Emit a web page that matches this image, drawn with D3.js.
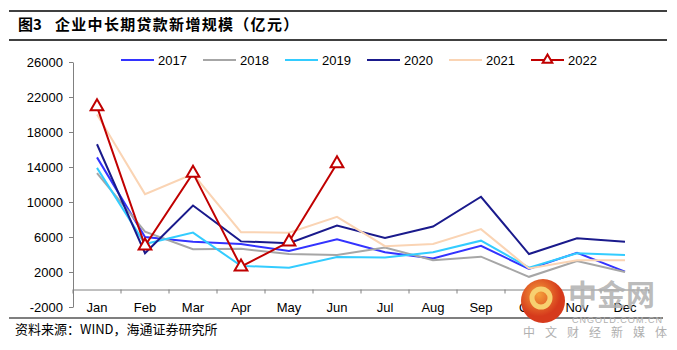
<!DOCTYPE html>
<html><head><meta charset="utf-8">
<script src="https://cdn.jsdelivr.net/npm/d3@7"></script>
<style>
html,body{margin:0;padding:0;background:#fff;}
svg{display:block;}
</style></head>
<body>
<svg id="chart" width="677" height="350"></svg>
<script>
const months = ["Jan","Feb","Mar","Apr","May","Jun","Jul","Aug","Sep","Oct","Nov","Dec"];
const yTicks = [-2000,2000,6000,10000,14000,18000,22000,26000];
const years = ["2017","2018","2019","2020","2021","2022"];
const v2017 = [15100,6000,5450,5200,4400,5750,4250,3550,5000,2350,4200,2050];
const v2018 = [13300,6600,4600,4650,4050,3950,4800,3350,3750,1450,3250,2000];
const v2019 = [13900,5200,6500,2700,2500,3700,3650,4250,5580,2500,4150,3950];
const v2020 = [16600,4150,9600,5500,5300,7300,5900,7200,10600,4050,5850,5450];
const v2021 = [20000,10900,13200,6550,6500,8300,4950,5200,6900,2400,3350,3350];
const v2022 = [20900,5000,13300,2600,5450,14400];
const colors = ["#3333ff","#a6a6a6","#33ccff","#1a1a8c","#fad4b4","#c00000"];

const series = [v2017,v2018,v2019,v2020,v2021,v2022];
const svg = d3.select("#chart");
const font = "'Liberation Sans', Arial, sans-serif";
const cjk = "'Noto Sans CJK SC', sans-serif";

// title rules
svg.append("line").attr("x1",9).attr("x2",667).attr("y1",11).attr("y2",11).attr("stroke","#000").attr("stroke-width",1.5);
svg.append("line").attr("x1",9).attr("x2",667).attr("y1",40).attr("y2",40).attr("stroke","#000").attr("stroke-width",1.5);
svg.append("text").attr("x",18).attr("y",30).attr("font-family",cjk).attr("font-weight","bold").attr("font-size",15).text("图3");
svg.append("text").attr("x",55).attr("y",30).attr("font-family",cjk).attr("font-weight","bold").attr("font-size",15).attr("letter-spacing",1.3).text("企业中长期贷款新增规模（亿元）");
svg.append("line").attr("x1",9).attr("x2",663).attr("y1",318).attr("y2",318).attr("stroke","#000").attr("stroke-width",1.2);
svg.append("text").attr("x",15).attr("y",334).attr("font-family",cjk).attr("font-size",13).text("资料来源：WIND，海通证券研究所");

const x = d3.scaleBand().domain(months).range([73,649]);
const y = d3.scaleLinear().domain([-2000,26000]).range([307,62]);

// y axis
const ya = svg.append("g").attr("transform","translate(73,0)")
  .call(d3.axisLeft(y).tickValues(yTicks).tickSize(4).tickSizeOuter(0).tickPadding(6).tickFormat(d=>String(d)));
ya.select(".domain").attr("stroke","#808080");
ya.selectAll(".tick line").attr("stroke","#808080");
ya.selectAll("text").attr("font-family",font).attr("font-size",13).attr("fill","#000");

// x axis at zero
const xa = svg.append("g").attr("transform",`translate(0,${y(0)})`)
  .call(d3.axisBottom(x).tickSize(0).tickPadding(0));
xa.select(".domain").attr("stroke","#808080");
xa.selectAll(".tick text").attr("font-family",font).attr("font-size",13).attr("fill","#000").attr("y", y(-2000)-y(0)+5).attr("dy","0");
// band-boundary ticks
svg.append("g").selectAll("line").data(months.concat(["end"])).join("line")
  .attr("x1",(d,i)=>73+i*x.step()).attr("x2",(d,i)=>73+i*x.step())
  .attr("y1",y(0)).attr("y2",y(0)+4).attr("stroke","#808080");

const grad = svg.append("defs").append("radialGradient").attr("id","lg").attr("cx","40%").attr("cy","35%");
grad.append("stop").attr("offset","0%").attr("stop-color","#f5a03a");
grad.append("stop").attr("offset","100%").attr("stop-color","#d63a1c");

const line = d3.line().x((d,i)=>x(months[i])+x.bandwidth()/2).y(d=>y(d));
series.forEach((s,k)=>{
  svg.append("path").datum(s).attr("d",line).attr("fill","none")
    .attr("stroke",colors[k]).attr("stroke-width",2).attr("stroke-linejoin","miter");
});
const tri = d3.symbol().type(d3.symbolTriangle).size(70);
svg.append("g").selectAll("path").data(v2022).join("path")
  .attr("d",tri).attr("transform",(d,i)=>`translate(${x(months[i])+x.bandwidth()/2},${y(d)})`)
  .attr("fill","#fff").attr("stroke","#c00000").attr("stroke-width",2);

// legend
const lg = svg.append("g");
years.forEach((yr,k)=>{
  const lx = 121 + k*82;
  lg.append("line").attr("x1",lx).attr("x2",lx+33).attr("y1",60).attr("y2",60).attr("stroke",colors[k]).attr("stroke-width",2);
  if(k===5) lg.append("path").attr("d",d3.symbol().type(d3.symbolTriangle).size(40)).attr("transform",`translate(${lx+16.5},60)`).attr("fill","#fff").attr("stroke","#c00000").attr("stroke-width",2);
  lg.append("text").attr("x",lx+37).attr("y",65).attr("font-family",font).attr("font-size",13).text(yr);
});

// watermark overlay (logo)
svg.append("circle").attr("cx",543).attr("cy",301).attr("r",22).attr("fill","url(#lg)");
svg.append("circle").attr("cx",541).attr("cy",298).attr("r",9).attr("fill","none").attr("stroke","#f7d070").attr("stroke-width",5);
svg.append("text").attr("x",568).attr("y",306).attr("font-family",cjk).attr("font-weight","bold").attr("font-size",29).attr("fill","#b0b0b0").attr("fill-opacity",0.85).text("中金网");
svg.append("text").attr("x",572).attr("y",323).attr("font-family",font).attr("font-size",9).attr("fill","#b0b0b0").attr("textLength",90).text("CNGOLD.COM.CN");
svg.append("text").attr("x",523).attr("y",337).attr("font-family",cjk).attr("font-size",12).attr("fill","#b0b0b0").attr("letter-spacing",10).text("中文财经新媒体");
</script>
</body></html>
